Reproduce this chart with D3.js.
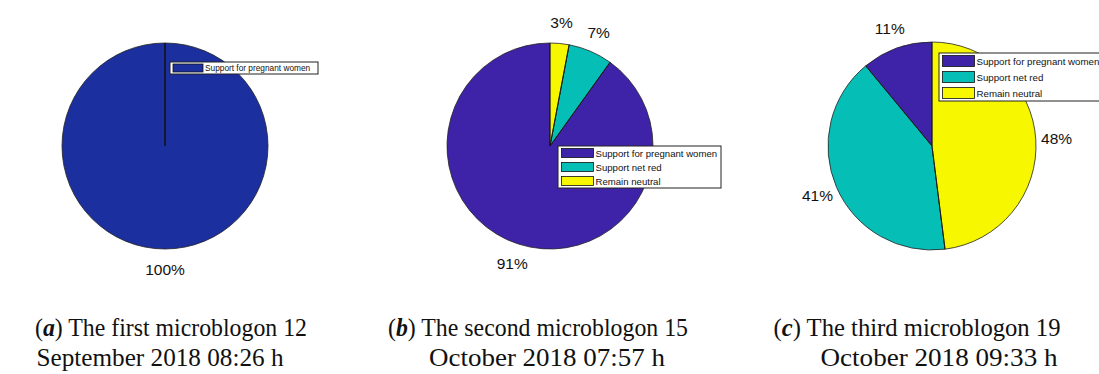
<!DOCTYPE html>
<html>
<head>
<meta charset="utf-8">
<script src="https://cdn.jsdelivr.net/npm/d3@7"></script>
<style>
  html, body { margin: 0; padding: 0; background: #fff; }
  svg { display: block; }
</style>
</head>
<body>
<svg id="chart" width="1099" height="374"></svg>
<script>
// Opinion categories and their shares (%) in each microblog's comments
const categories = ["Support for pregnant women", "Support net red", "Remain neutral"];
const sharesA = [100];
const sharesB = [91, 7, 3];
const sharesC = [11, 41, 48];

const captionsLine1 = ["The first microblogon 12", "The second microblogon 15", "The third microblogon 19"];
const captionsLine2 = ["September 2018 08:26 h", "October 2018 07:57 h", "October 2018 09:33 h"];
const panelTags = ["a", "b", "c"];

const colors = ["#3e22a8", "#05bfb6", "#f7f700"];
const singleColor = "#1b2f9f";

const svg = d3.select("#chart");

const panels = [
  { values: sharesA, cx: 165, cy: 146, r: 103, fill: [singleColor],
    legend: { x: 170, y: 62, w: 148, rowH: 12, sw: 30, font: 8.3, pad: 2 },
    cap1: { x: 171, w: 272 }, cap2: { x: 160, w: 247 } },
  { values: sharesB, cx: 550, cy: 146, r: 103, fill: colors,
    legend: { x: 558, y: 146, w: 163, rowH: 14, sw: 32, font: 9.6, pad: 2.5 },
    cap1: { x: 538, w: 300 }, cap2: { x: 547, w: 236 } },
  { values: sharesC, cx: 932, cy: 146, r: 104, fill: colors,
    legend: { x: 939, y: 53, w: 175, rowH: 16, sw: 32, font: 9.7, pad: 2.5 },
    cap1: { x: 917, w: 287 }, cap2: { x: 939, w: 237 } }
];

panels.forEach((p, i) => {
  const g = svg.append("g").attr("transform", `translate(${p.cx},${p.cy})`);

  // slices run counter-clockwise from 12 o'clock
  const pie = d3.pie().sort(null).startAngle(0).endAngle(-2 * Math.PI);
  const arcs = pie(p.values);
  const arc = d3.arc().innerRadius(0).outerRadius(p.r);
  const labelArc = d3.arc().innerRadius(p.r * 1.2).outerRadius(p.r * 1.2);

  g.selectAll("path.slice")
    .data(arcs)
    .join("path")
    .attr("class", "slice")
    .attr("d", arc)
    .attr("fill", (d, k) => p.fill[k])
    .attr("stroke", "#222")
    .attr("stroke-width", 0.8);

  // radial edge at the start of each slice
  g.selectAll("line.edge")
    .data(arcs)
    .join("line")
    .attr("class", "edge")
    .attr("x1", 0).attr("y1", 0)
    .attr("x2", d => Math.sin(d.startAngle) * p.r)
    .attr("y2", d => -Math.cos(d.startAngle) * p.r)
    .attr("stroke", "#111")
    .attr("stroke-width", p.values.length === 1 ? 1.5 : 0.8);

  g.selectAll("text.pct")
    .data(arcs)
    .join("text")
    .attr("class", "pct")
    .attr("x", d => labelArc.centroid(d)[0])
    .attr("y", d => labelArc.centroid(d)[1])
    .attr("text-anchor", "middle")
    .attr("dominant-baseline", "central")
    .attr("font-family", "Liberation Sans, Arial, sans-serif")
    .attr("font-size", 15.5)
    .attr("fill", "#111")
    .text(d => d.data + "%");

  // legend
  const L = p.legend;
  const n = p.values.length;
  const lg = svg.append("g").attr("transform", `translate(${L.x},${L.y})`);
  lg.append("rect")
    .attr("width", L.w).attr("height", n * L.rowH)
    .attr("fill", "#fff").attr("stroke", "#222").attr("stroke-width", 1);
  const rows = lg.selectAll("g.row")
    .data(categories.slice(0, n))
    .join("g")
    .attr("class", "row")
    .attr("transform", (d, k) => `translate(0,${k * L.rowH})`);
  rows.append("rect")
    .attr("x", L.pad + 1).attr("y", L.pad)
    .attr("width", L.sw).attr("height", L.rowH - 2 * L.pad)
    .attr("fill", (d, k) => p.fill[k])
    .attr("stroke", "#111").attr("stroke-width", 0.8);
  rows.append("text")
    .attr("x", L.pad + L.sw + 3)
    .attr("y", L.rowH / 2)
    .attr("dominant-baseline", "central")
    .attr("font-family", "Liberation Sans, Arial, sans-serif")
    .attr("font-size", L.font)
    .attr("fill", "#111")
    .text(d => d);

  // caption, two centred lines
  const cap = svg.append("text")
    .attr("x", p.cap1.x)
    .attr("y", 336)
    .attr("text-anchor", "middle")
    .attr("font-family", "Liberation Serif, DejaVu Serif, serif")
    .attr("font-size", 25)
    .attr("fill", "#111")
    .attr("textLength", p.cap1.w)
    .attr("lengthAdjust", "spacingAndGlyphs");
  cap.append("tspan").text("(");
  cap.append("tspan").attr("font-weight", "bold").attr("font-style", "italic").text(panelTags[i]);
  cap.append("tspan").text(") " + captionsLine1[i]);
  svg.append("text")
    .attr("x", p.cap2.x)
    .attr("y", 366)
    .attr("text-anchor", "middle")
    .attr("font-family", "Liberation Serif, DejaVu Serif, serif")
    .attr("font-size", 25)
    .attr("fill", "#111")
    .attr("textLength", p.cap2.w)
    .attr("lengthAdjust", "spacingAndGlyphs")
    .text(captionsLine2[i]);
});
</script>
</body>
</html>
